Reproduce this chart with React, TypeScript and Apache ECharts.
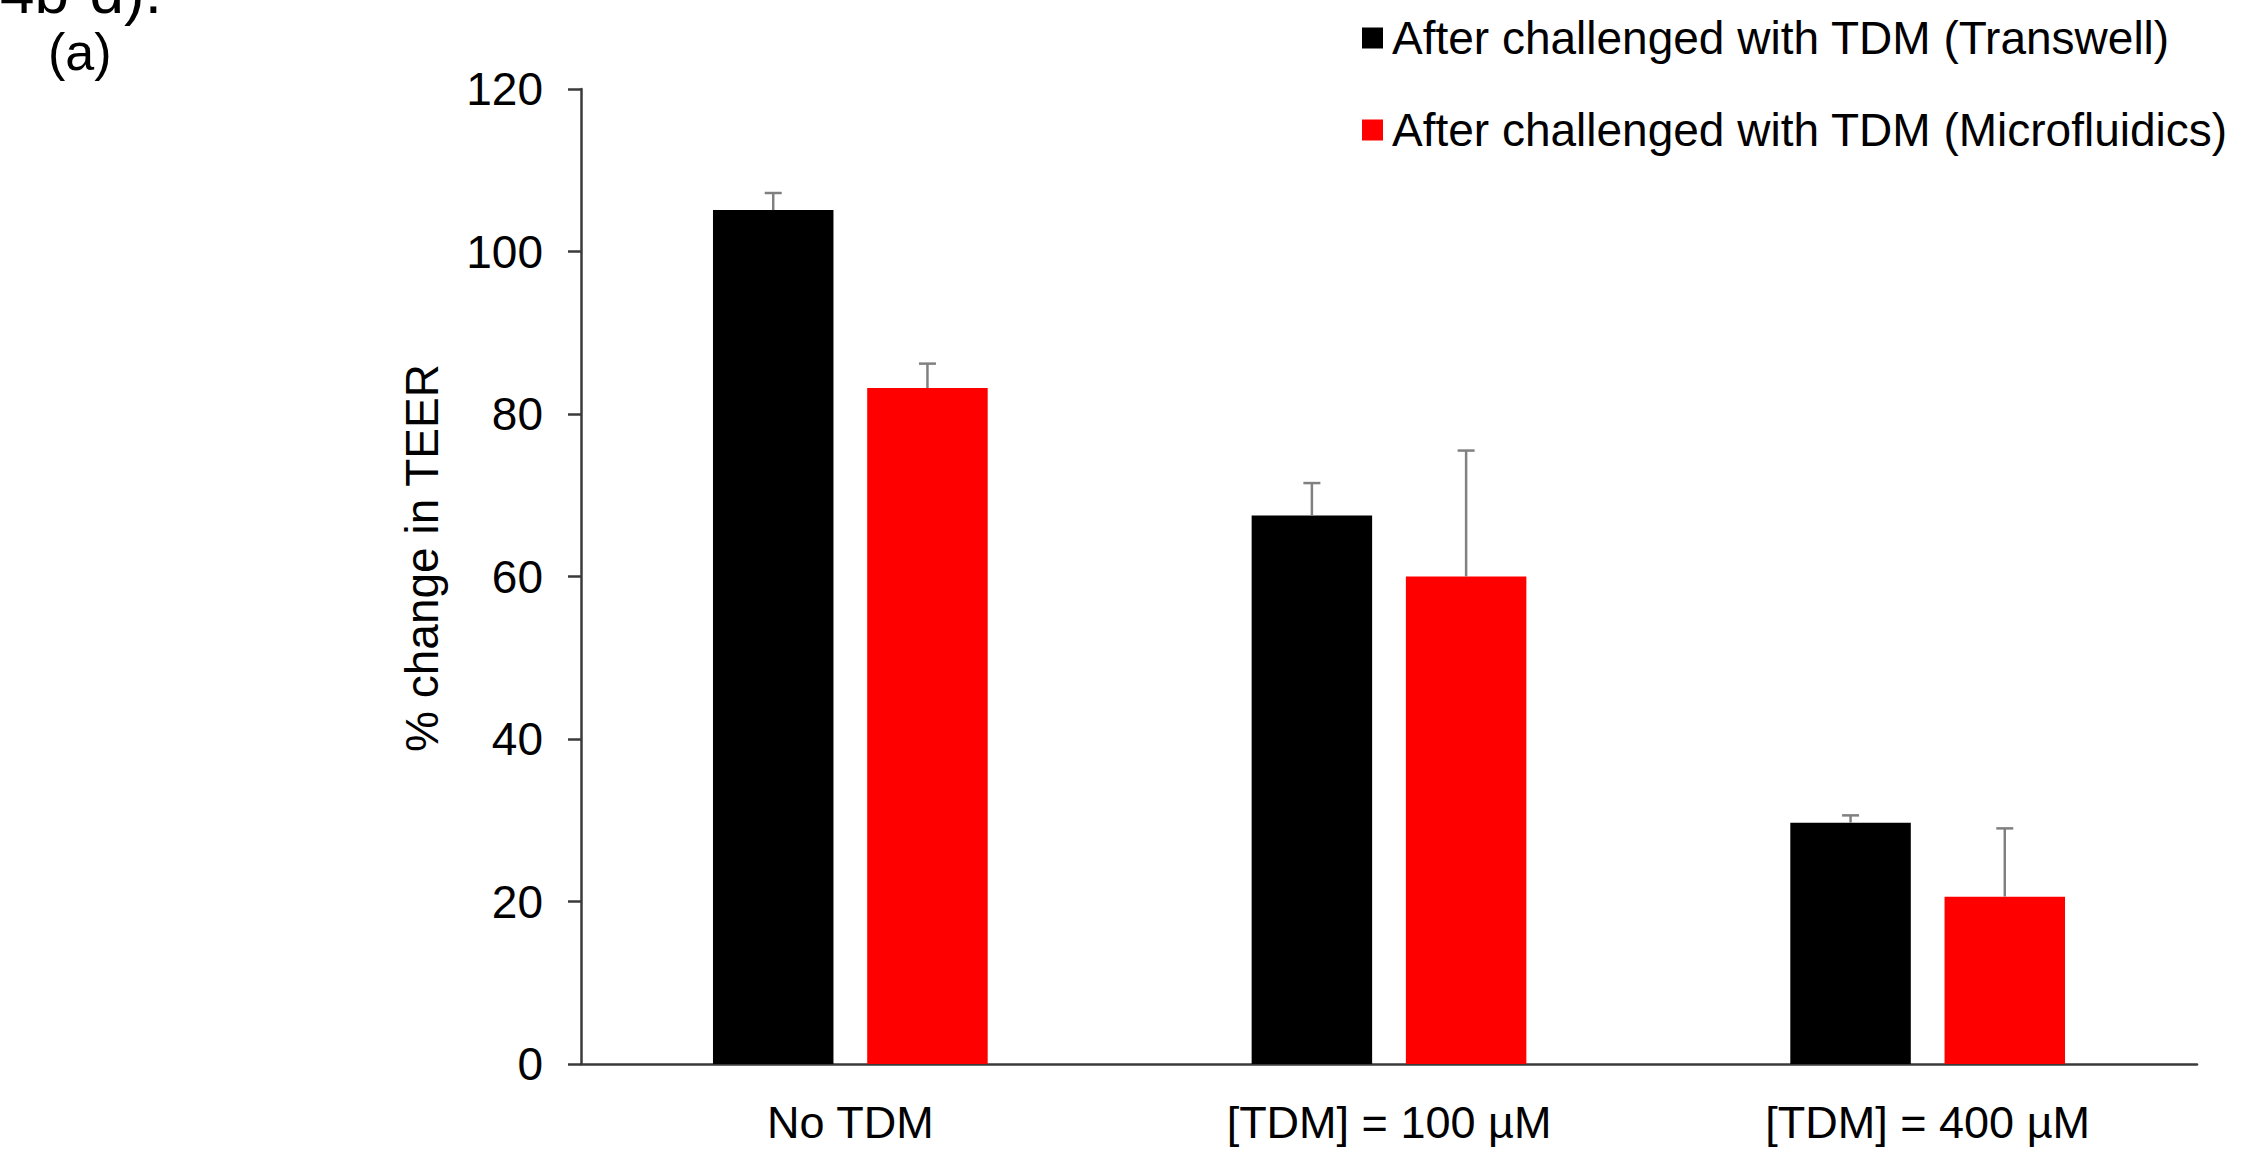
import React, { useEffect, useRef } from "react";
import * as echarts from "echarts";

const categories = ["No TDM", "[TDM] = 100 µM", "[TDM] = 400 µM"];
const seriesNames = [
  "After challenged with TDM (Transwell)",
  "After challenged with TDM (Microfluidics)",
];
const transwell = [105.1, 67.5, 29.7];
const transwellErr = [2.1, 4.0, 0.9];
const microfluidics = [83.2, 60.0, 20.6];
const microfluidicsErr = [3.0, 15.5, 8.4];
const yTicks = { min: 0, max: 120, interval: 20 };
const yAxisTitle = "% change in TEER";
const panelLabel = "(a)";
const headerFragment = "4b-d).";

const FONT = "'Liberation Sans', Arial, sans-serif";
const BAR_CAT_GAP = 0.49;
const BAR_GAP = 0.28;

export default function App() {
  const ref = useRef<HTMLDivElement>(null);

  useEffect(() => {
    if (!ref.current) return;
    const chart = echarts.init(ref.current, null, { renderer: "svg" });

    const errData: number[][] = [];
    categories.forEach((_, i) => {
      errData.push([i, transwell[i], transwellErr[i], 0]);
      errData.push([i, microfluidics[i], microfluidicsErr[i], 1]);
    });

    const option: any = {
      animation: false,
      backgroundColor: "#ffffff",
      textStyle: { fontFamily: FONT },
      grid: { left: 581, right: 54, top: 89, bottom: 88, containLabel: false },
      legend: {
        data: seriesNames,
        orient: "vertical",
        left: 1357,
        top: 10,
        itemWidth: 21,
        itemHeight: 21,
        itemGap: 46,
        icon: "rect",
        textStyle: {
          fontFamily: FONT,
          fontSize: 46,
          color: "#000",
          lineHeight: 46,
          padding: [0, 0, 0, 4],
        },
      },
      xAxis: {
        type: "category",
        data: categories,
        axisLine: { show: true, lineStyle: { color: "#3a3a3a", width: 2.5 } },
        axisTick: { show: false },
        axisLabel: { fontFamily: FONT, fontSize: 45, color: "#000", margin: 36 },
        splitLine: { show: false },
      },
      yAxis: {
        type: "value",
        min: yTicks.min,
        max: yTicks.max,
        interval: yTicks.interval,
        axisLine: { show: true, lineStyle: { color: "#3a3a3a", width: 2.5 } },
        axisTick: { show: true, inside: false, length: 13, lineStyle: { color: "#3a3a3a", width: 2.5 } },
        axisLabel: { fontFamily: FONT, fontSize: 46, color: "#000", margin: 38 },
        splitLine: { show: false },
      },
      graphic: [
        {
          type: "text",
          x: 422,
          y: 558,
          rotation: Math.PI / 2,
          style: {
            text: yAxisTitle,
            fontFamily: FONT,
            fontSize: 46,
            fill: "#000",
            align: "center",
            verticalAlign: "middle",
          },
        },
        {
          type: "text",
          x: 48,
          y: 52,
          style: {
            text: panelLabel,
            fontFamily: FONT,
            fontSize: 52,
            fill: "#000",
            align: "left",
            verticalAlign: "middle",
          },
        },
        {
          type: "text",
          x: 0,
          y: -9,
          style: {
            text: headerFragment,
            fontFamily: FONT,
            fontSize: 62,
            fill: "#000",
            align: "left",
            verticalAlign: "middle",
          },
        },
      ],
      series: [
        {
          name: seriesNames[0],
          type: "bar",
          data: transwell,
          barCategoryGap: BAR_CAT_GAP * 100 + "%",
          barGap: BAR_GAP * 100 + "%",
          itemStyle: { color: "#000000" },
        },
        {
          name: seriesNames[1],
          type: "bar",
          data: microfluidics,
          barCategoryGap: BAR_CAT_GAP * 100 + "%",
          barGap: BAR_GAP * 100 + "%",
          itemStyle: { color: "#ff0000" },
        },
        {
          name: "errors",
          type: "custom",
          data: errData,
          encode: { x: 0, y: 1 },
          z: 10,
          renderItem: (params: any, api: any) => {
            const cat = api.value(0);
            const v = api.value(1);
            const e = api.value(2);
            const s = api.value(3);
            const base = api.coord([cat, v]);
            const top = api.coord([cat, v + e]);
            const band = api.size([1, 0])[0];
            const barW = (band * (1 - BAR_CAT_GAP)) / (2 + BAR_GAP);
            const off = (barW * (1 + BAR_GAP)) / 2;
            const x = base[0] + (s === 0 ? -off : off);
            const style = { stroke: "#808080", lineWidth: 2.5 };
            return {
              type: "group",
              children: [
                { type: "line", shape: { x1: x, y1: base[1], x2: x, y2: top[1] }, style },
                { type: "line", shape: { x1: x - 8.5, y1: top[1], x2: x + 8.5, y2: top[1] }, style },
              ],
            };
          },
        },
      ],
    };

    chart.setOption(option);
    return () => chart.dispose();
  }, []);

  return (
    <div
      ref={ref}
      style={{ position: "fixed", left: 0, top: 0, width: 2251, height: 1152, background: "#fff" }}
    />
  );
}
